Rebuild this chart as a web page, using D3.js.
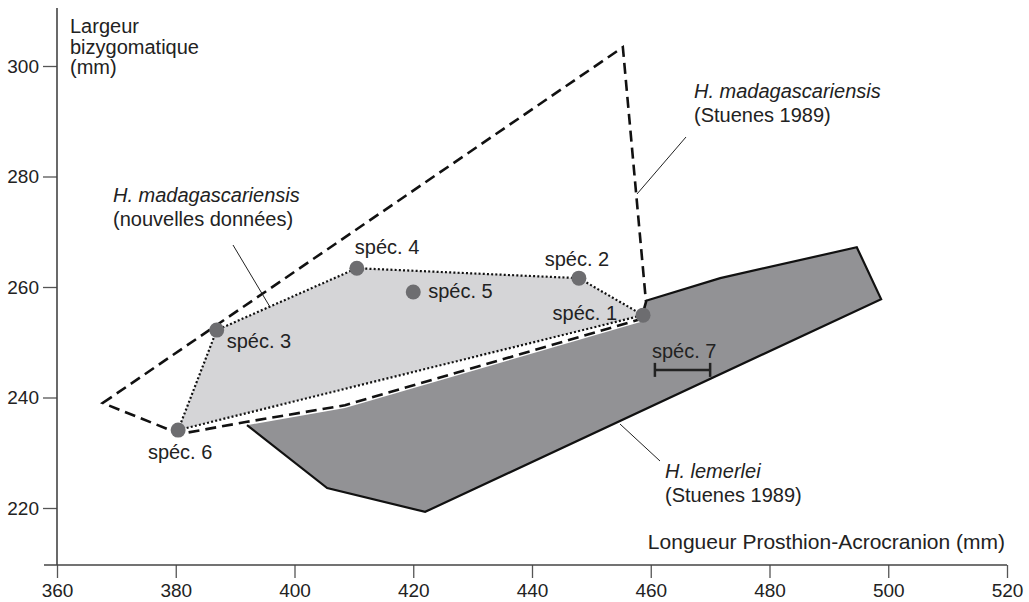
<!DOCTYPE html>
<html>
<head>
<meta charset="utf-8">
<script src="https://cdn.jsdelivr.net/npm/d3@7/dist/d3.min.js"></script>
<style>
  body { margin: 0; background: #fff; }
  svg { font-family: "Liberation Sans", Arial, Helvetica, sans-serif; }
</style>
</head>
<body>
<svg id="canvas" width="1029" height="602"></svg>
<script>
// tick labels
var xTicks = [360, 380, 400, 420, 440, 460, 480, 500, 520];
var yTicks = [220, 240, 260, 280, 300];

// specimens (nouvelles données): longueur, largeur
var specNames = ['spéc. 1', 'spéc. 2', 'spéc. 3', 'spéc. 4', 'spéc. 5', 'spéc. 6'];
var specLength = [458.7, 447.9, 386.9, 410.5, 420.0, 380.4];
var specWidth = [254.9, 261.6, 252.2, 263.4, 259.1, 234.1];
// hull order of the light polygon
var hullOrder = [5, 2, 3, 1, 0];

// H. madagascariensis (Stuenes 1989) outline
var stuenesMadLength = [367.7, 455.3, 459.2, 458.4, 408.5, 392.0, 380.7];
var stuenesMadWidth = [239.0, 303.4, 257.3, 254.2, 238.6, 235.6, 233.4];

// H. lemerlei (Stuenes 1989) outline
var lemerleiLength = [392.0, 408.5, 458.4, 459.2, 471.7, 494.7, 498.8, 422.0, 405.5];
var lemerleiWidth = [235.0, 238.1, 253.7, 257.5, 261.6, 267.2, 257.8, 219.3, 223.6];

// spéc. 7: length range, width
var spec7Length = [460.7, 470.0];
var spec7Width = 245.0;

var svg = d3.select('#canvas');

var x = d3.scaleLinear().domain([360, 520]).range([57, 1007]);
var y = d3.scaleLinear().domain([220, 300]).range([508, 66]);

var line = d3.line()
    .x(function(d) { return x(d[0]); })
    .y(function(d) { return y(d[1]); });

function pts(xs, ys) {
    return xs.map(function(v, i) { return [v, ys[i]]; });
}

var lemerlei = pts(lemerleiLength, lemerleiWidth);
var stuenes = pts(stuenesMadLength, stuenesMadWidth);
var specs = pts(specLength, specWidth);
var hull = hullOrder.map(function(i) { return specs[i]; });

// dark polygon (fill), outline without the top-left edge
svg.append('path')
    .attr('d', line(lemerlei) + 'Z')
    .attr('fill', '#929295')
    .attr('stroke', 'none');
svg.append('path')
    .attr('d', line(lemerlei.slice(3).concat([lemerlei[0]])))
    .attr('fill', 'none')
    .attr('stroke', '#111')
    .attr('stroke-width', 2.2)
    .attr('stroke-linejoin', 'miter');

// light polygon
svg.append('path')
    .attr('d', line(hull) + 'Z')
    .attr('fill', '#d5d5d7')
    .attr('stroke', '#111')
    .attr('stroke-width', 2.2)
    .attr('stroke-dasharray', '2,2.2');

// dashed outline
svg.append('path')
    .attr('d', line(stuenes) + 'Z')
    .attr('fill', 'none')
    .attr('stroke', '#111')
    .attr('stroke-width', 2.6)
    .attr('stroke-dasharray', '11,6');

// specimen dots
svg.selectAll('circle.spec')
    .data(specs)
    .enter()
    .append('circle')
    .attr('class', 'spec')
    .attr('cx', function(d) { return x(d[0]); })
    .attr('cy', function(d) { return y(d[1]); })
    .attr('r', 7.5)
    .attr('fill', '#6d6d70');

// spéc. 7 range bar
var bar = svg.append('g').attr('stroke', '#222').attr('stroke-width', 2.5);
bar.append('line')
    .attr('x1', x(spec7Length[0])).attr('x2', x(spec7Length[1]))
    .attr('y1', y(spec7Width)).attr('y2', y(spec7Width));
spec7Length.forEach(function(v) {
    bar.append('line')
        .attr('x1', x(v)).attr('x2', x(v))
        .attr('y1', y(spec7Width) - 7).attr('y2', y(spec7Width) + 7);
});

// specimen labels (offsets from their dot)
var labelOffsets = [
    {dx: -26, dy: 5, anchor: 'end'},
    {dx: -2, dy: -12, anchor: 'middle'},
    {dx: 10, dy: 18, anchor: 'start'},
    {dx: -2, dy: -14, anchor: 'start'},
    {dx: 15, dy: 6, anchor: 'start'},
    {dx: 2, dy: 29, anchor: 'middle'}
];
svg.selectAll('text.spec')
    .data(specs)
    .enter()
    .append('text')
    .attr('class', 'spec')
    .attr('x', function(d, i) { return x(d[0]) + labelOffsets[i].dx; })
    .attr('y', function(d, i) { return y(d[1]) + labelOffsets[i].dy; })
    .attr('text-anchor', function(d, i) { return labelOffsets[i].anchor; })
    .attr('font-size', 20)
    .attr('fill', '#222')
    .text(function(d, i) { return specNames[i]; });

svg.append('text')
    .attr('x', x(spec7Length[0]) - 3)
    .attr('y', y(spec7Width) - 12)
    .attr('font-size', 20)
    .attr('fill', '#222')
    .text('spéc. 7');

// group labels
function label(px, py, lines) {
    var t = svg.append('text')
        .attr('x', px).attr('y', py)
        .attr('font-size', 20)
        .attr('fill', '#222');
    lines.forEach(function(l, i) {
        t.append('tspan')
            .attr('x', px)
            .attr('dy', i === 0 ? 0 : 24)
            .attr('font-style', l.italic ? 'italic' : 'normal')
            .text(l.text);
    });
}
label(113, 202, [{text: 'H. madagascariensis', italic: true}, {text: '(nouvelles données)'}]);
label(694, 98, [{text: 'H. madagascariensis', italic: true}, {text: '(Stuenes 1989)'}]);
label(665, 478, [{text: 'H. lemerlei', italic: true}, {text: '(Stuenes 1989)'}]);

// leader lines
var leaders = [
    [[233, 245], [270, 307]],
    [[686, 137], [637, 194]],
    [[620, 424], [660, 461]]
];
svg.selectAll('line.leader')
    .data(leaders)
    .enter()
    .append('line')
    .attr('class', 'leader')
    .attr('x1', function(d) { return d[0][0]; })
    .attr('y1', function(d) { return d[0][1]; })
    .attr('x2', function(d) { return d[1][0]; })
    .attr('y2', function(d) { return d[1][1]; })
    .attr('stroke', '#222')
    .attr('stroke-width', 1);

// axes
var xAxis = svg.append('g')
    .attr('transform', 'translate(0,565)')
    .call(d3.axisBottom(x).tickValues(xTicks).tickSize(13).tickPadding(6).tickFormat(d3.format('d')));
xAxis.select('.domain').remove();
xAxis.selectAll('.tick line').attr('stroke', '#555').attr('stroke-width', 1.3);
xAxis.selectAll('.tick text')
    .attr('font-size', 19).attr('fill', '#222')
    .attr('font-family', '"Liberation Sans", Arial, sans-serif');

var yAxis = svg.append('g')
    .attr('transform', 'translate(57,0)')
    .call(d3.axisLeft(y).tickValues(yTicks).tickSize(14).tickPadding(4).tickFormat(d3.format('d')));
yAxis.select('.domain').remove();
yAxis.selectAll('.tick line').attr('stroke', '#555').attr('stroke-width', 1.3);
yAxis.selectAll('.tick text')
    .attr('font-size', 19).attr('fill', '#222')
    .attr('font-family', '"Liberation Sans", Arial, sans-serif');

svg.append('line')
    .attr('x1', 44).attr('x2', x(520))
    .attr('y1', 565).attr('y2', 565)
    .attr('stroke', '#444').attr('stroke-width', 1.6);
svg.append('line')
    .attr('x1', 57).attr('x2', 57)
    .attr('y1', 8).attr('y2', 565)
    .attr('stroke', '#444').attr('stroke-width', 1.6);

// axis titles
var yt = svg.append('text').attr('x', 70).attr('y', 33).attr('font-size', 20).attr('fill', '#222');
['Largeur', 'bizygomatique', '(mm)'].forEach(function(s, i) {
    yt.append('tspan').attr('x', 70).attr('dy', i === 0 ? 0 : 20.5).text(s);
});
svg.append('text')
    .attr('x', 1005).attr('y', 549)
    .attr('text-anchor', 'end')
    .attr('font-size', 21)
    .attr('fill', '#222')
    .text('Longueur Prosthion-Acrocranion (mm)');
</script>
</body>
</html>
